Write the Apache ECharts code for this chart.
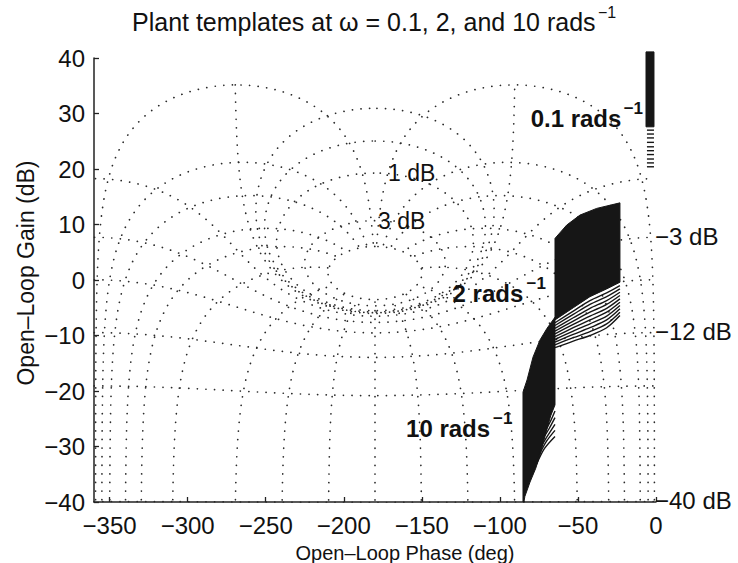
<!DOCTYPE html>
<html><head><meta charset="utf-8">
<script src="https://cdn.jsdelivr.net/npm/echarts@6/dist/echarts.min.js"></script>
<style>html,body{margin:0;padding:0;background:#fff}#c{width:738px;height:563px}</style>
</head><body><div id="c"></div>
<script>
// ---------- axis ticks ----------
const xTicks = [-350, -300, -250, -200, -150, -100, -50, 0];
const yTicks = [-40, -30, -20, -10, 0, 10, 20, 30, 40];

// ---------- Nichols grid levels ----------
const closedLoopGainsDb = [6, 3, 1, 0.5, 0.25, 0, -1, -3, -6, -12, -20, -40];
const closedLoopPhasesDeg = [-1, -5, -10, -20, -30, -50, -90, -120, -150, -180,
  -210, -240, -270, -310, -330, -340, -350, -355, -359];
const gridGainCapDb = 35.5;
const phaseLineStopDb = 6;   // phase contours end on the 6 dB contour

// contour labels: text, phase, gain
const innerLabelText = ['1 dB', '3 dB'];
const innerLabelPhase = [-171.7, -178];
const innerLabelGain = [19.3, 10.7];
const rightLabelText = ['\u22123 dB', '\u221212 dB', '\u221240 dB'];
const rightLabelGain = [7.9, -9.2, -39.7];

// ---------- template at 0.1 rad/s ----------
const t01Solid = [[-6.4, 41.1], [-1.3, 41.1], [-1.3, 27.6], [-6.4, 27.6]];
const t01HatchPhases = [-5.8, -1.3];
const t01HatchGains = [27.0, 26.3, 25.6, 24.8, 24.0, 23.3, 22.6, 21.8, 21.1, 20.4];

// ---------- template at 2 rad/s ----------
const t2Solid = [[-64.7, 7.5], [-57.2, 9.9], [-48.7, 11.7], [-38.0, 12.9], [-23.1, 13.9],
  [-23.1, -0.4], [-31.6, -1.6], [-42.3, -3.0], [-53.0, -5.0], [-64.7, -7.2]];
const t2HatchPhases = [-64.7, -53.0, -42.3, -31.6, -23.1];
const t2Hatch = [
  [-7.7, -5.6, -3.7, -2.3, -1.0],
  [-8.2, -6.2, -4.4, -3.0, -1.6],
  [-8.7, -6.8, -5.1, -3.7, -2.2],
  [-9.2, -7.4, -5.8, -4.4, -2.8],
  [-9.7, -8.0, -6.5, -5.1, -3.4],
  [-10.2, -8.6, -7.2, -5.8, -4.0],
  [-10.7, -9.2, -7.9, -6.5, -4.6],
  [-11.2, -9.8, -8.6, -7.2, -5.2],
  [-11.7, -10.4, -9.3, -7.9, -5.8],
  [-12.2, -11.0, -10.0, -8.6, -6.4]
];

// ---------- template at 10 rad/s ----------
const t10Solid = [[-64.7, -6.7], [-69.8, -8.7], [-74.3, -10.8], [-78.8, -13.9], [-82.6, -18.0],
  [-85.2, -20.2], [-85.2, -40], [-84.6, -40], [-84.0, -39.0], [-80.7, -36.4], [-77.0, -33.9],
  [-74.0, -31.2], [-70.5, -27.5], [-67.5, -24.5], [-64.7, -22.5]];
const t10Hatch = [
  [[-70.5, -27.0], [-67.5, -25.4], [-64.7, -23.6]],
  [[-72.0, -28.4], [-68.5, -26.8], [-64.7, -24.8]],
  [[-73.5, -30.0], [-69.5, -28.1], [-64.7, -26.0]],
  [[-75.0, -31.6], [-70.5, -29.2], [-64.7, -27.1]],
  [[-76.5, -33.2], [-71.5, -30.4], [-64.7, -28.2]]
];

const FONT = 'Liberation Sans, Arial, Helvetica, sans-serif';
const INK = '#161616';

// ---------- Nichols grid construction ----------
function toPhaseGain(re, im) {
  let ph = Math.atan2(im, re) * 180 / Math.PI;
  if (ph > 0) ph -= 360;
  const g = 20 * Math.log10(Math.hypot(re, im));
  return [ph, g];
}
function lOfT(tr, ti) { // L = T/(1-T)
  const dr = 1 - tr, di = -ti;
  const d = dr * dr + di * di;
  return [(tr * dr + ti * di) / d, (ti * dr - tr * di) / d];
}
function simplify(pts) {
  const out = [];
  let last = null;
  for (const p of pts) {
    if (p === null) { if (out.length && out[out.length - 1] !== null) out.push(null); last = null; continue; }
    if (last) {
      const dx = (p[0] - last[0]) * 1.56, dy = (p[1] - last[1]) * 5.55;
      if (dx * dx + dy * dy < 0.36) continue;
    }
    out.push(p); last = p;
  }
  return out;
}
function gainContour(db) {
  const M = Math.pow(10, db / 20);
  const pts = [];
  for (let k = 1; k < 3600; k++) {
    const th = k / 10 * Math.PI / 180;
    const L = lOfT(M * Math.cos(th), M * Math.sin(th));
    const pg = toPhaseGain(L[0], L[1]);
    if (pg[1] > gridGainCapDb) { pts.push(null); continue; }
    pts.push(pg);
  }
  if (M > 1) pts.push(pts[0]);
  return simplify(pts);
}
function phaseContour(deg) {
  const phi = deg * Math.PI / 180;
  const mMax = Math.pow(10, phaseLineStopDb / 20);
  const pts = [];
  for (let k = -2600; k <= 3000; k++) {
    const m = Math.pow(10, k / 1000);
    if (m > mMax) break;
    const L = lOfT(m * Math.cos(phi), m * Math.sin(phi));
    const pg = toPhaseGain(L[0], L[1]);
    if (pg[1] > gridGainCapDb) { pts.push(null); continue; }
    pts.push(pg);
  }
  return simplify(pts);
}

const dotted = { color: '#2a2a2a', width: 1.7, type: [0.1, 8.5], cap: 'round' };
const series = [];
closedLoopGainsDb.forEach(db => series.push({
  type: 'line', data: gainContour(db), showSymbol: false, silent: true, clip: true,
  lineStyle: dotted, connectNulls: false, z: 1
}));
closedLoopPhasesDeg.forEach(d => series.push({
  type: 'line', data: phaseContour(d), showSymbol: false, silent: true, clip: true,
  lineStyle: dotted, connectNulls: false, z: 1
}));

function polySeries(points) {
  return {
    type: 'custom', clip: false, silent: true, z: 5,
    data: [points[0]],
    renderItem: (params, api) => ({
      type: 'polygon',
      shape: { points: points.map(p => api.coord(p)) },
      style: { fill: INK, stroke: INK, lineWidth: 1 }
    })
  };
}
function hatchSeries(pts) {
  return {
    type: 'line', data: pts, showSymbol: false, silent: true, clip: false, smooth: 0.3, z: 5,
    lineStyle: { color: INK, width: 1.4 }
  };
}
series.push(polySeries(t01Solid));
t01HatchGains.forEach(g => series.push(hatchSeries(t01HatchPhases.map(p => [p, g]))));
series.push(polySeries(t2Solid));
t2Hatch.forEach(row => series.push(hatchSeries(t2HatchPhases.map((p, i) => [p, row[i]]))));
series.push(polySeries(t10Solid));
t10Hatch.forEach(line => series.push(hatchSeries(line)));

const minus = v => String(v).replace('-', '\u2212');
const chart = echarts.init(document.getElementById('c'), null, { renderer: 'svg' });
chart.setOption({
  animation: false,
  backgroundColor: '#fff',
  grid: { left: 94, right: 82, top: 58, bottom: 61, containLabel: false, outerBoundsMode: 'none' },
  xAxis: {
    type: 'value', min: -360, max: 0,
    axisLine: { show: true, onZero: false, lineStyle: { color: '#222', width: 1.5 } },
    axisTick: { show: true, inside: true, length: 5, customValues: xTicks, lineStyle: { color: '#222', width: 1.3 } },
    axisLabel: { customValues: xTicks, formatter: minus, color: '#111', fontFamily: FONT, fontSize: 24, margin: 11 },
    splitLine: { show: false }
  },
  yAxis: {
    type: 'value', min: -40, max: 40, interval: 10,
    axisLine: { show: true, onZero: false, lineStyle: { color: '#222', width: 1.5 } },
    axisTick: { show: true, inside: true, length: 5, lineStyle: { color: '#222', width: 1.3 } },
    axisLabel: { formatter: minus, color: '#111', fontFamily: FONT, fontSize: 24, margin: 9 },
    splitLine: { show: false }
  },
  series
});

const px = (ph, g) => chart.convertToPixel({ gridIndex: 0 }, [ph, g]);
const txt = (text, x, y, size, opts) => Object.assign({
  type: 'text', x, y, silent: true, z: 20,
  style: Object.assign({ text, fill: '#111', font: size + 'px ' + FONT, textAlign: 'left', textVerticalAlign: 'middle' }, opts || {})
});
const graphics = [];
graphics.push(txt('Plant templates at \u03c9 = 0.1, 2, and 10 rads', 132, 22, 25));
graphics.push(txt('\u22121', 598, 12, 16));
graphics.push(txt('Open\u2013Loop Phase (deg)', 405, 553, 20, { textAlign: 'center' }));
graphics.push(Object.assign(txt('Open\u2013Loop Gain (dB)', 26, 273, 23, { textAlign: 'center' }), { rotation: Math.PI / 2 }));
innerLabelText.forEach((t, i) => {
  const p = px(innerLabelPhase[i], innerLabelGain[i]);
  graphics.push(txt(t, p[0], p[1], 23));
});
rightLabelText.forEach((t, i) => {
  const p = px(0, rightLabelGain[i]);
  graphics.push(txt(t, p[0] - 1, p[1], 24));
});
// template labels
const lab = (main, sup, ph, g, supDx, supDy) => {
  const p = px(ph, g);
  graphics.push(txt(main, p[0], p[1], 24, { font: 'bold 24px ' + FONT }));
  graphics.push(txt(sup, p[0] + supDx, p[1] + supDy, 17, { font: 'bold 17px ' + FONT }));
};
lab('0.1 rads', '\u22121', -80.3, 29.1, 93, -10);
lab('2 rads', '\u22121', -130.3, -2.5, 74, -10);
lab('10 rads', '\u22121', -160.1, -26.7, 87, -10);
chart.setOption({ graphic: graphics });
</script></body></html>
